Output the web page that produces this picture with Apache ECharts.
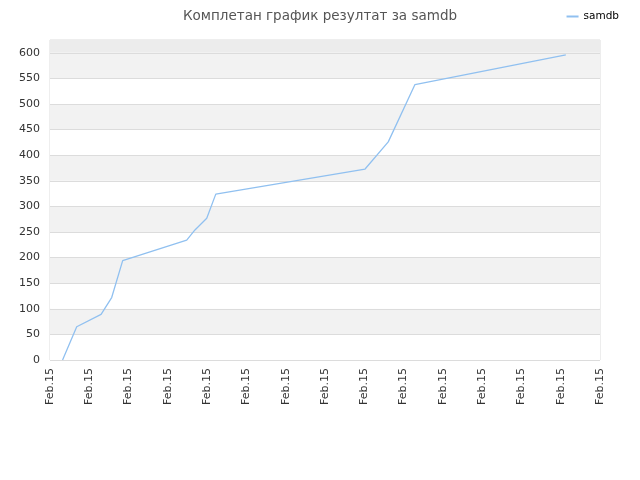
<!DOCTYPE html>
<html>
<head>
<meta charset="utf-8">
<script src="https://cdn.jsdelivr.net/npm/echarts@6/dist/echarts.min.js"></script>
<style>
html, body { margin: 0; padding: 0; background: #fff; }
#chart1 { width: 640px; height: 480px; }
</style>
</head>
<body>
<div id="chart1"></div>
<script>
// positions along the time axis (tick units) and scores
var xPos = [0.32, 0.68, 1.30, 1.57, 1.85, 3.48, 3.69, 3.99, 4.22, 8.02, 8.61, 9.29, 13.13];
var scores = [0, 65, 89, 122, 194, 234, 254, 277, 324, 373, 426, 538, 596];
var tickLabel = 'Feb.15';
var seriesName = 'samdb';

var points = [];
for (var i = 0; i < xPos.length; i++) {
    points.push([xPos[i], scores[i]]);
}

var weChart = echarts.init(document.getElementById('chart1'));
var option = {
    animation: false,
    title: {
        text: 'Комплетан график резултат за samdb',
        left: 'center',
        top: 4,
        textStyle: { fontFamily: 'DejaVu Sans', fontSize: 13.5, fontWeight: 'normal', color: '#555' }
    },
    legend: {
        right: 16,
        top: 6,
        itemWidth: 12,
        itemHeight: 2,
        itemGap: 8,
        icon: 'rect',
        textStyle: { fontFamily: 'DejaVu Sans', fontSize: 10.5, color: '#000' },
        data: [seriesName]
    },
    grid: { left: 50, right: 40, top: 40, bottom: 120, show: true, borderColor: '#dcdcdc', borderWidth: 1 },
    xAxis: {
        type: 'value',
        min: 0,
        max: 14,
        interval: 1,
        axisLine: { show: false },
        axisTick: { show: false },
        splitLine: { show: false },
        axisLabel: {
            rotate: 90,
            fontFamily: 'DejaVu Sans',
            fontSize: 11,
            color: '#333',
            margin: 8,
            formatter: function () { return tickLabel; }
        }
    },
    yAxis: {
        type: 'value',
        min: 0,
        max: 625,
        interval: 50,
        axisLine: { show: false },
        axisTick: { show: false },
        splitLine: { lineStyle: { color: '#dcdcdc' } },
        splitArea: { show: true, areaStyle: { color: ['#ffffff', '#f2f2f2'] } },
        axisLabel: { fontFamily: 'DejaVu Sans', fontSize: 11, color: '#333', margin: 10, showMaxLabel: false }
    },
    series: [{
        name: seriesName,
        type: 'line',
        data: points,
        showSymbol: false,
        lineStyle: { color: '#90c0f0', width: 1.3 },
        itemStyle: { color: '#90c0f0' },
        markArea: {
            silent: true,
            itemStyle: { color: '#ececec' },
            data: [[{ yAxis: 600 }, { yAxis: 625 }]]
        }
    }]
};
weChart.setOption(option, true);
</script>
</body>
</html>
